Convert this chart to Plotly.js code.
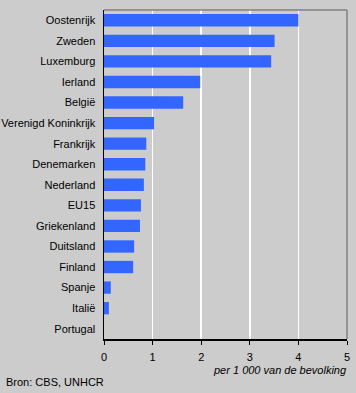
<!DOCTYPE html>
<html>
<head>
<meta charset="utf-8">
<script src="https://cdn.plot.ly/plotly-3.0.1.min.js"></script>
<style>
html,body{margin:0;padding:0;background:#cccccc;}
#chart{width:356px;height:393px;}
</style>
</head>
<body>
<div id="chart"></div>
<script>
const countries = ["Oostenrijk","Zweden","Luxemburg","Ierland","België","Verenigd Koninkrijk","Frankrijk","Denemarken","Nederland","EU15","Griekenland","Duitsland","Finland","Spanje","Italië","Portugal"];
const values = [4.0, 3.51, 3.44, 1.98, 1.63, 1.03, 0.87, 0.85, 0.82, 0.76, 0.74, 0.62, 0.60, 0.14, 0.10, 0.0];
const xTicks = [0,1,2,3,4,5];
const xTitle = "per 1 000 van de bevolking";
const source = "Bron: CBS, UNHCR";

const font = {family: "Liberation Sans, Arial, sans-serif", size: 11, color: "#000000"};

Plotly.newPlot("chart", [{
  type: "bar",
  orientation: "h",
  y: countries,
  x: values,
  marker: {color: "#3366ff", line: {width: 0}},
  hoverinfo: "none"
}], {
  width: 356, height: 393,
  margin: {l: 104, r: 9, t: 10, b: 54},
  paper_bgcolor: "#cccccc",
  plot_bgcolor: "#cccccc",
  font: font,
  bargap: 0.4,
  showlegend: false,
  xaxis: {
    range: [0, 5],
    tickvals: xTicks,
    ticktext: xTicks.map(String),
    showgrid: true, gridcolor: "#ffffff", gridwidth: 1.5,
    zeroline: false,
    showline: true, linecolor: "#000000", linewidth: 1.5,
    ticks: "outside", ticklen: 4, tickcolor: "#000000", tickwidth: 1,
    ticklabelstandoff: 3,
    tickfont: font,
    fixedrange: true
  },
  yaxis: {
    type: "category",
    autorange: "reversed",
    showgrid: false, zeroline: false,
    showline: true, linecolor: "#000000", linewidth: 1.5,
    ticks: "", ticklabelstandoff: 5,
    tickfont: font,
    fixedrange: true
  },
  shapes: [
    {type: "line", xref: "paper", yref: "paper", x0: 0, x1: 1, y0: 1, y1: 1, line: {color: "#808080", width: 1.5}},
    {type: "line", xref: "paper", yref: "paper", x0: 1, x1: 1, y0: 0, y1: 1, line: {color: "#808080", width: 1.5}}
  ],
  annotations: [
    {text: "<i>" + xTitle + "</i>", xref: "paper", yref: "paper", x: 1.01, y: -0.07, xanchor: "right", yanchor: "top", showarrow: false, font: font},
    {text: source, xref: "paper", yref: "paper", x: -0.41, y: -0.105, xanchor: "left", yanchor: "top", showarrow: false, font: font}
  ]
}, {displayModeBar: false, staticPlot: true});
</script>
</body>
</html>
